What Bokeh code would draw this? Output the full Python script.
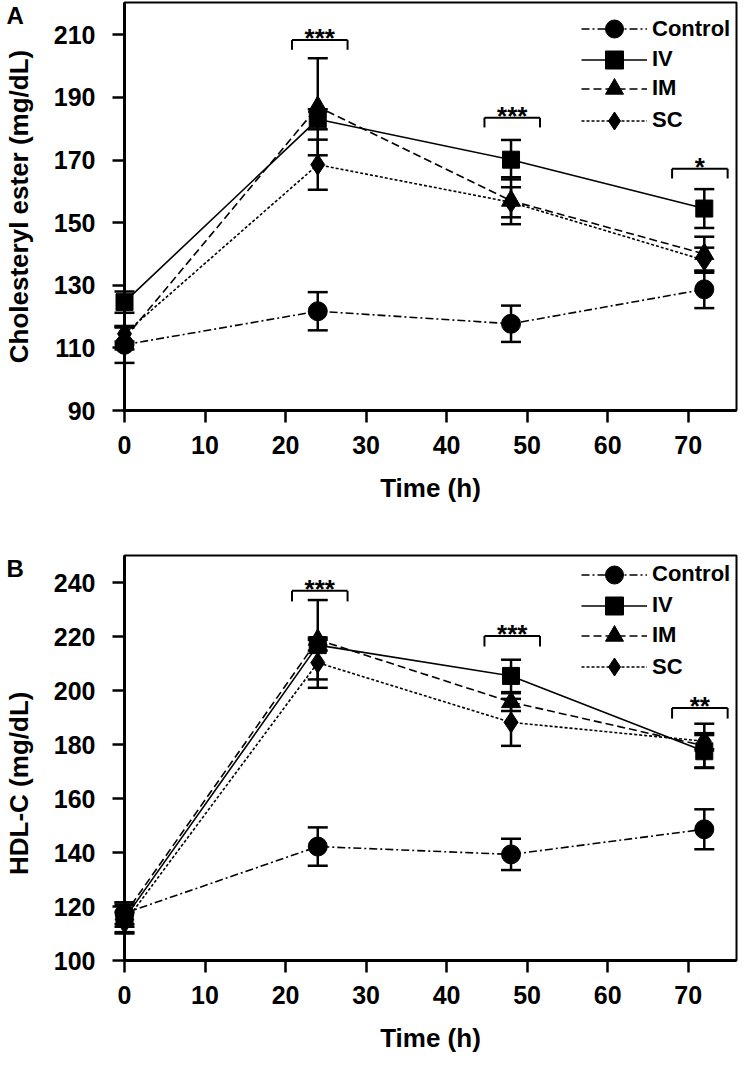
import math
from bokeh.plotting import figure
from bokeh.models import Legend, LegendItem, FixedTicker, Range1d
from bokeh.layouts import column
from bokeh.embed import file_html
from bokeh.resources import INLINE
from bokeh.core.properties import value

FONT = "Liberation Sans"

# ---------------- data ----------------
times = [0, 24, 48, 72]
groups = ["Control", "IV", "IM", "SC"]

# Panel A: Cholesteryl ester (mg/dL)
ce_control = [111.0, 121.7, 117.7, 128.7]
ce_control_err = [5.8, 6.1, 5.8, 6.0]
ce_iv = [124.6, 183.0, 170.1, 154.5]
ce_iv_err = [3.4, 3.2, 6.3, 6.2]
ce_im = [113.0, 187.0, 157.0, 140.0]
ce_im_err = [3.5, 15.5, 7.5, 5.5]
ce_sc = [114.5, 168.5, 156.5, 138.0]
ce_sc_err = [2.5, 8.0, 4.8, 4.0]

# Panel B: HDL-C (mg/dL)
hdl_control = [117.5, 142.2, 139.3, 148.6]
hdl_control_err = [4.0, 7.1, 5.8, 7.4]
hdl_iv = [115.5, 216.8, 205.4, 177.5]
hdl_iv_err = [5.0, 2.0, 6.0, 6.0]
hdl_im = [117.0, 218.8, 195.7, 179.5]
hdl_im_err = [4.5, 14.7, 3.3, 8.2]
hdl_sc = [114.0, 210.3, 188.2, 181.2]
hdl_sc_err = [4.0, 9.3, 8.7, 3.0]

x_ticks = [0, 10, 20, 30, 40, 50, 60, 70]
ce_ticks = [90, 110, 130, 150, 170, 190, 210]
hdl_ticks = [100, 120, 140, 160, 180, 200, 220, 240]

# significance brackets
sig_x0 = [20.8, 44.7, 68.0]
sig_x1 = [27.7, 51.6, 74.9]
ce_sig_y = [208.3, 183.5, 167.2]
ce_sig_text = ["***", "***", "*"]
hdl_sig_y = [236.9, 220.2, 193.5]
hdl_sig_text = ["***", "***", "**"]

STYLE = {
    "Control": dict(marker="circle", size=19, dash="8 3 2 3"),
    "IV": dict(marker="square", size=17, dash="solid"),
    "IM": dict(marker="triangle", size=19, dash="8 4"),
    "SC": dict(marker="diamond", size=21, dash="3 2"),
}


def style_axes(p):
    for ax in (p.xaxis, p.yaxis):
        ax.axis_line_width = 3
        ax.axis_line_color = "black"
        ax.major_tick_line_width = 2.5
        ax.major_tick_line_color = "black"
        ax.major_tick_out = 12
        ax.major_tick_in = 0
        ax.minor_tick_line_color = None
        ax.major_label_text_font = FONT
        ax.major_label_text_font_style = "bold"
        ax.major_label_text_font_size = "25px"
        ax.major_label_text_color = "black"
        ax.axis_label_text_font = FONT
        ax.axis_label_text_font_style = "bold"
        ax.axis_label_text_font_size = "26px"
        ax.axis_label_text_color = "black"


def make_panel(letter, ylabel, yrange, yticks, series, sig_y, sig_text, stem,
               frame_h, top, bottom, legend_ys, letter_dy):
    p = figure(frame_width=612, frame_height=frame_h,
               x_range=Range1d(0, 76), y_range=Range1d(*yrange),
               output_backend="svg", toolbar_location=None,
               min_border_left=120, min_border_right=2,
               min_border_top=top, min_border_bottom=bottom)
    p.grid.visible = False
    p.outline_line_color = "black"
    p.outline_line_width = 2
    p.background_fill_color = "white"
    p.border_fill_color = "white"
    style_axes(p)
    p.xaxis.ticker = FixedTicker(ticks=x_ticks)
    p.yaxis.ticker = FixedTicker(ticks=yticks)
    p.xaxis.axis_label = "Time (h)"
    p.yaxis.axis_label = ylabel
    p.xaxis.major_label_standoff = 13
    p.yaxis.major_label_standoff = 17
    p.xaxis.axis_label_standoff = 16
    p.yaxis.axis_label_standoff = 17

    for g, ly in zip(groups, legend_ys):
        vals, errs = series[g]
        st = STYLE[g]
        upper = [v + e for v, e in zip(vals, errs)]
        lower = [v - e for v, e in zip(vals, errs)]
        lr = p.line(times, vals, line_color="black", line_width=1.6,
                    line_dash=st["dash"], level="overlay")
        # error bars: stems and caps
        p.segment(x0=times, y0=lower, x1=times, y1=upper,
                  line_color="black", line_width=2.5, level="overlay")
        p.scatter(times + times, upper + lower, marker="dash", size=20,
                  line_color="black", line_width=2.5, level="overlay")
        sr = p.scatter(times, vals, marker=st["marker"], size=st["size"],
                       fill_color="black", line_color="black", level="overlay")
        legend = Legend(items=[LegendItem(label=g, renderers=[lr, sr])],
                        location=(457, ly),
                        border_line_color=None, background_fill_alpha=0,
                        label_text_font=FONT, label_text_font_style="bold",
                        label_text_font_size="22px", label_text_color="black",
                        glyph_width=66, glyph_height=45, label_height=20,
                        spacing=0, padding=0, margin=0, label_standoff=5)
        p.add_layout(legend)

    # significance brackets
    p.segment(x0=sig_x0, y0=sig_y, x1=sig_x1, y1=sig_y,
              line_color="black", line_width=2, level="overlay")
    p.segment(x0=sig_x0, y0=sig_y, x1=sig_x0, y1=[y - stem for y in sig_y],
              line_color="black", line_width=2, level="overlay")
    p.segment(x0=sig_x1, y0=sig_y, x1=sig_x1, y1=[y - stem for y in sig_y],
              line_color="black", line_width=2, level="overlay")
    p.text(x=[(a + b) / 2 for a, b in zip(sig_x0, sig_x1)], y=sig_y, text=sig_text,
           text_align="center", text_baseline="alphabetic", y_offset=-2,
           text_font=value(FONT), text_font_style="bold", text_font_size="26px",
           text_color="black", level="overlay")

    # panel letter, anchored at the top-left corner of the frame
    p.text(x=[0], y=[yrange[1]], text=[letter], x_offset=-118, y_offset=letter_dy,
           text_align="left", text_baseline="middle",
           text_font=value(FONT), text_font_style="bold", text_font_size="24px",
           text_color="black", level="overlay")
    return p


series_a = {
    "Control": (ce_control, ce_control_err),
    "IV": (ce_iv, ce_iv_err),
    "IM": (ce_im, ce_im_err),
    "SC": (ce_sc, ce_sc_err),
}
series_b = {
    "Control": (hdl_control, hdl_control_err),
    "IV": (hdl_iv, hdl_iv_err),
    "IM": (hdl_im, hdl_im_err),
    "SC": (hdl_sc, hdl_sc_err),
}

pa = make_panel("A", "Cholesteryl ester (mg/dL)", (90, 220.3), ce_ticks, series_a,
                ce_sig_y, ce_sig_text, 3.1, frame_h=408, top=2, bottom=130,
                legend_ys=[358.7, 328.3, 299.2, 267.1], letter_dy=13)
# the reference's HDL-C label sits a little below the frame centre
pb = make_panel("B", "HDL-C (mg/dL)" + "\u00a0" * 7, (100, 250), hdl_ticks, series_b,
                hdl_sig_y, hdl_sig_text, 3.9, frame_h=405, top=15, bottom=98,
                legend_ys=[363.2, 332.2, 302.1, 271.0], letter_dy=13)

layout = column(pa, pb, spacing=0)
open("out.html", "w").write(file_html(layout, INLINE))
